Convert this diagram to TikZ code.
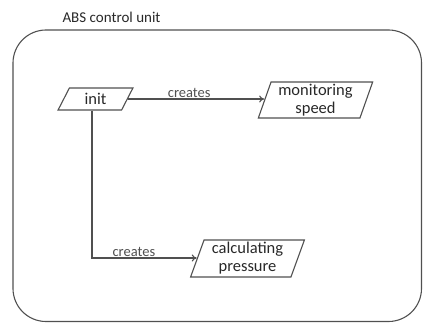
\documentclass[tikz,border=0pt]{standalone}
\usepackage{fontspec}
\setmainfont{Carlito}
\usetikzlibrary{shapes.geometric,arrows.meta}
\definecolor{linegray}{RGB}{80,80,80}
\definecolor{textgray}{RGB}{40,40,40}
\tikzset{
  para/.style={draw=linegray, line width=1.1pt, trapezium, trapezium left angle=#1, trapezium right angle=180-#1,
    trapezium stretches=true, inner sep=0pt, align=center, font=\fontsize{16.5}{18}\selectfont, text=textgray},
  conn/.style={draw=linegray, line width=1.1pt, -{To[length=5pt,width=7pt]}},
  lbl/.style={font=\fontsize{14.5}{14.5}\selectfont, text=linegray, inner sep=1pt}
}
\begin{document}
\begin{tikzpicture}[x=1pt,y=-1pt]
\useasboundingbox (0,0) rectangle (423,323);
\node[font=\fontsize{15}{15}\selectfont, text=textgray, anchor=west] (title) at (59,17) {ABS control unit};
\draw[draw=linegray, line width=1.1pt, rounded corners=33pt] (13,30) rectangle (421.5,321.5);
\node[para=67.7, minimum width=75pt, minimum height=22pt] (init) at (95.5,99) {init};
\node[para=71.6, minimum width=115pt, minimum height=36pt] (mon) at (315.5,100) {monitoring\\speed};
\node[para=71, minimum width=115pt, minimum height=37pt] (calc) at (247.5,258.5) {calculating\\pressure};
\coordinate (bend) at (92,258);
\draw[conn] (init.east) -- node[lbl, above, pos=0.45] {creates} (init.east -| mon.west);
\draw[conn] (init.south -| bend) -- (bend) -- node[lbl, above, pos=0.4] {creates} (bend -| calc.west);
\end{tikzpicture}
\end{document}
